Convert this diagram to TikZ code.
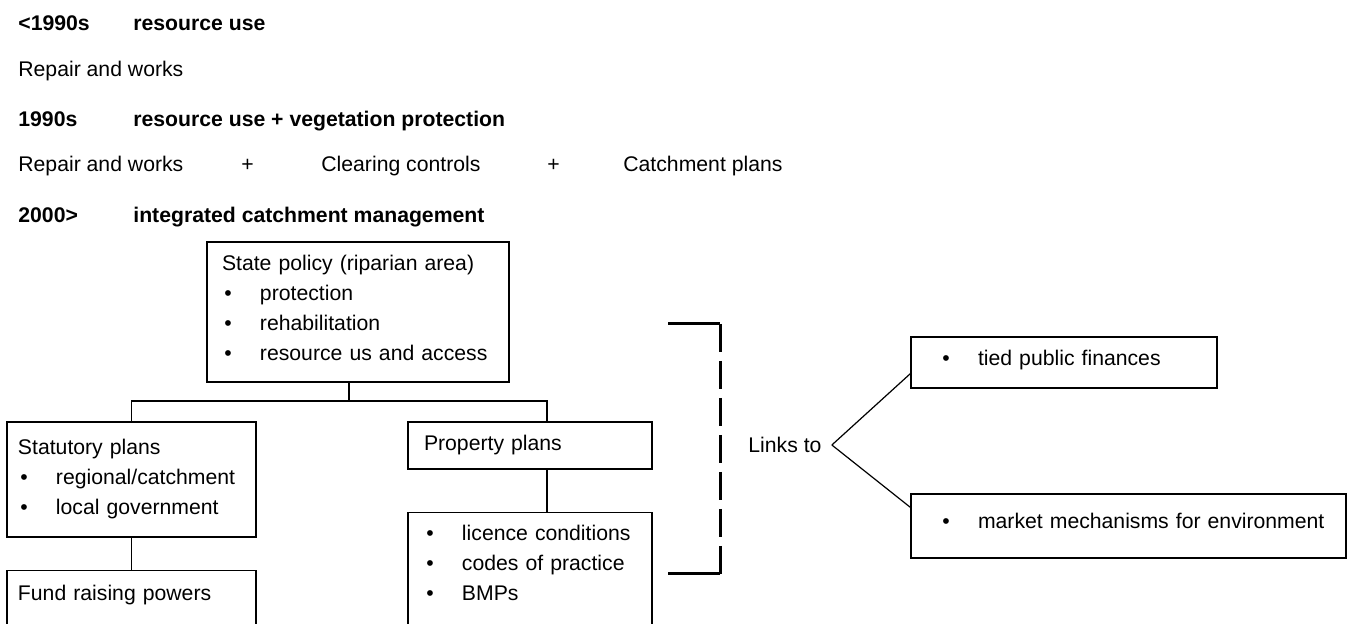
\documentclass[tikz,border=0pt]{standalone}
\usepackage{fontspec}
\setmainfont{Liberation Sans}
\usepackage{tikz}
\usetikzlibrary{positioning}
% bullet item inside a box
\newcommand{\bitem}[1]{\makebox[19pt][l]{\hspace{1.2pt}\textbullet}#1}
% extra room under the last line of a box
\newcommand{\bpad}[1]{\rule[-#1]{0pt}{0pt}}

\begin{document}
\begin{tikzpicture}[
    x = 0.5pt, y = -0.5pt,
    font = \fontsize{10.6}{15}\selectfont,
    every node/.style = {inner sep = 0pt},
    era/.style = {anchor = base west, font = \fontsize{10.6}{15}\selectfont\bfseries},
    plain/.style = {anchor = base west},
    box/.style = {rectangle, draw, line width = 0.6pt, align = left, inner xsep = 5.5pt},
    link/.style = {line width = 0.6pt},
    bracket/.style = {line width = 1.5pt},
    ]
    \useasboundingbox (0,0) rectangle (1351,624);
    \clip (0,0) rectangle (1351,624);

    % headings
    \node [era]   (e1)  at (18,31)   {<1990s};
    \node [era]   (e1t) at (133,31)  {resource use};
    \node [plain] (r1)  at (18,77)   {Repair and works};
    \node [era]   (e2)  at (18,127)  {1990s};
    \node [era]   (e2t) at (133,127) {resource use + vegetation protection};
    \node [plain] (r2a) at (18,172)  {Repair and works};
    \node [plain] (p1)  at (241,172) {+};
    \node [plain] (r2b) at (321,172) {Clearing controls};
    \node [plain] (p2)  at (547,172) {+};
    \node [plain] (r2c) at (623,172) {Catchment plans};
    \node [era]   (e3)  at (18,223)  {2000>};
    \node [era]   (e3t) at (133,223) {integrated catchment management};

    % boxes
    \node [box, text width = 136pt, inner xsep = 7.5pt, minimum height = 70pt] (state) at (358,312)
        {State policy (riparian area)\\ \bitem{protection}\\ \bitem{rehabilitation}\\ \bitem{resource us and access}\bpad{4pt}};
    \node [box, text width = 113.5pt, minimum height = 57.5pt] (stat) at (131.5,479.5)
        {Statutory plans\\ \bitem{regional/catchment}\\ \bitem{local government}};
    \node [box, text width = 113.5pt, minimum height = 27pt] (fund) [below = 16pt of stat]
        {Fund raising powers\bpad{4pt}};
    \node [box, text width = 106pt, inner xsep = 8pt, minimum height = 23.5pt] (prop) at (530,445.5)
        {Property plans};
    \node [box, text width = 106pt, inner xsep = 8pt, minimum height = 57.5pt] (lic) [below = 21pt of prop]
        {\bitem{licence conditions}\\ \bitem{codes of practice}\\ \bitem{BMPs}\bpad{7pt}};
    \node [box, text width = 142pt, minimum height = 25.5pt] (tied) at (1064,362.5)
        {\hspace*{9pt}\bitem{tied public finances}\bpad{5pt}};
    \node [box, text width = 206.5pt, minimum height = 32pt] (mkt) at (1128.5,526)
        {\hspace*{9pt}\bitem{market mechanisms for environment}\bpad{5pt}};
    \node [anchor = west, inner xsep = 5pt] (links) at (738,445) {Links to};

    % draw paths
    \coordinate (hub) at (349,401);
    \coordinate (rj)  at (547,401);
    \draw [link] (state.south -| hub) -- (hub);
    \draw [link] (stat.north) |- (rj) -- (rj |- prop.north);
    \draw [link] (stat) -- (fund);
    \draw [link] (prop.south -| rj) -- (lic.north -| rj);
    \draw [link] (links.east) -- ([yshift = 7.5pt]tied.south west);
    \draw [link] (links.east) -- ([yshift = -7pt]mkt.north west);

    % bracket
    \coordinate (brt) at (668,324);
    \coordinate (brb) at (668,574);
    \draw [bracket] (brt) -- ++(52,0) coordinate (brtr);
    \draw [bracket, dash pattern = on 14pt off 4.5pt] (brtr) -- (brtr |- brb) coordinate (brbr);
    \draw [bracket] (brbr) -- (brb);
\end{tikzpicture}
\end{document}
